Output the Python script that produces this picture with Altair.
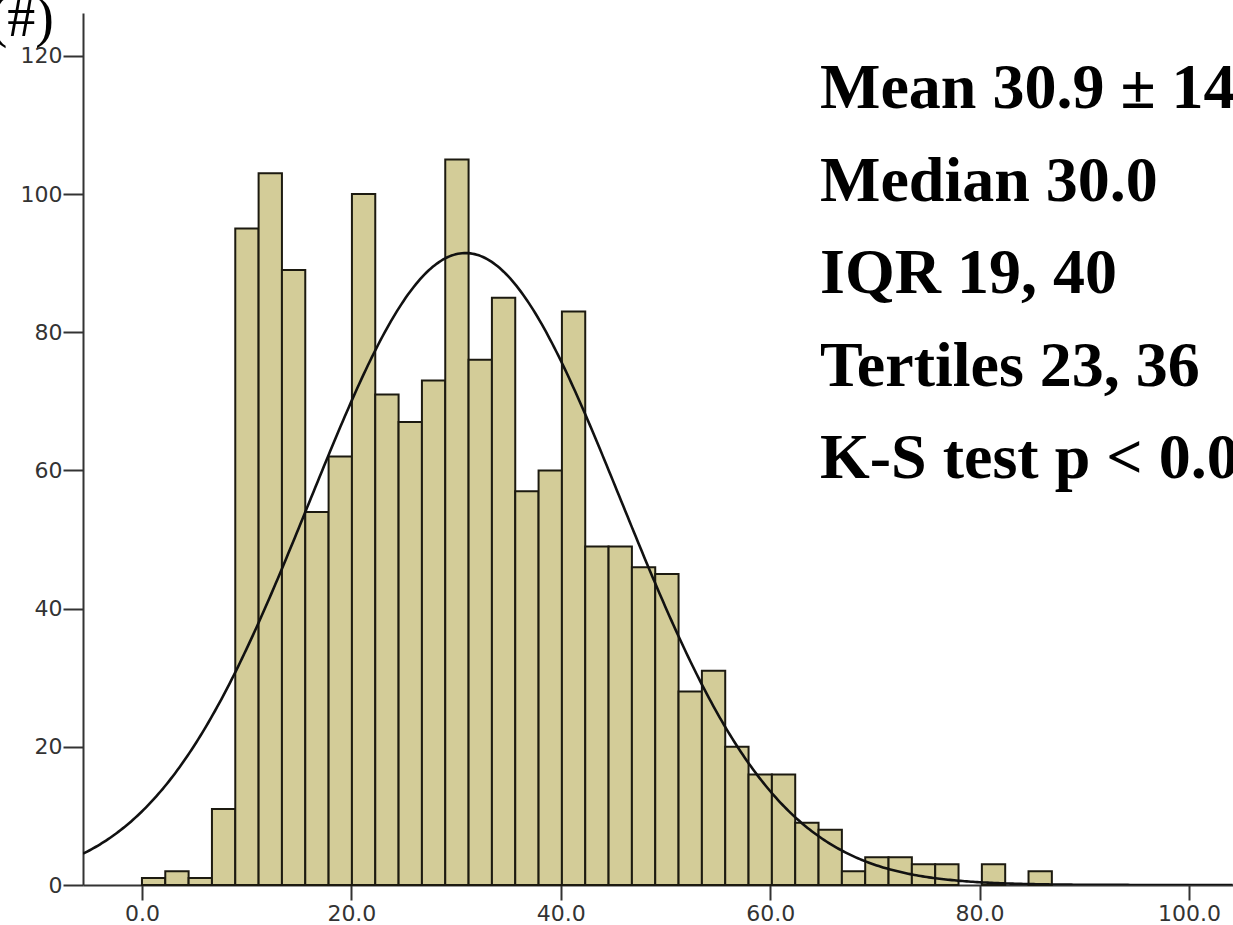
import altair as alt
import pandas as pd

# Histogram counts, 39 equal bins starting at 0
counts = [1, 2, 1, 11, 95, 103, 89, 54, 62, 100, 71, 67, 73, 105, 76, 85, 57, 60, 83,
          49, 49, 46, 45, 28, 31, 20, 16, 16, 9, 8, 2, 4, 4, 3, 3, 0, 3, 0, 2]
bin_origin = 0.0
bin_range_max = 86.9
x_ticks = [0, 20, 40, 60, 80, 100]
y_ticks = [0, 20, 40, 60, 80, 100, 120]
fit_mean = 30.9
fit_sd = 14.9
stats_lines = ["Mean 30.9 \u00b1 14", "Median 30.0", "IQR 19, 40", "Tertiles 23, 36", "K-S test p < 0.0"]
y_label = "(#)"

bin_width = (bin_range_max - bin_origin) / len(counts)
n_total = sum(counts)
bars_df = pd.DataFrame({
    "start": [bin_origin + i * bin_width for i in range(len(counts))],
    "end": [bin_origin + (i + 1) * bin_width for i in range(len(counts))],
    "count": counts,
})
bars_df = bars_df[bars_df["count"] > 0]

W, H = 1150, 872
x_scale = alt.Scale(domain=[-5.63, 104.2], nice=False, zero=False)
y_scale = alt.Scale(domain=[0, 126.2], nice=False, zero=True)

bars = alt.Chart(bars_df).mark_rect(
    fill="#d3cc98", stroke="#1c1a10", strokeWidth=2
).encode(
    x=alt.X("start:Q", scale=x_scale,
            axis=alt.Axis(values=x_ticks, format=".1f", title=None, tickSize=15,
                          labelFontSize=22, labelPadding=3)),
    x2="end:Q",
    y=alt.Y("count:Q", scale=y_scale,
            axis=alt.Axis(values=y_ticks, format="d", title=None, tickSize=20,
                          labelFontSize=22, labelPadding=1)),
    y2=alt.datum(0),
)

amp = n_total * bin_width / (fit_sd * (2 * 3.141592653589793) ** 0.5)
curve = alt.Chart(alt.sequence(-5.63, 104.2, 0.2, as_="xv")).transform_calculate(
    yv=f"{amp}*exp(-0.5*pow((datum.xv-{fit_mean})/{fit_sd},2))"
).mark_line(color="#111111", strokeWidth=2.6, clip=True).encode(
    x=alt.X("xv:Q", scale=x_scale),
    y=alt.Y("yv:Q", scale=y_scale),
)

layers = [bars, curve]
for i, line in enumerate(stats_lines):
    layers.append(
        alt.Chart(pd.DataFrame({"t": [line]})).mark_text(
            font="Liberation Serif", fontWeight="bold", fontSize=64,
            align="left", baseline="alphabetic", color="#000000"
        ).encode(text="t:N", x=alt.value(737), y=alt.value(95 + i * 92.5))
    )

layers.append(
    alt.Chart(pd.DataFrame({"t": [y_label]})).mark_text(
        font="Liberation Serif", fontSize=56, align="right",
        baseline="alphabetic", color="#000000"
    ).encode(text="t:N", x=alt.value(-29), y=alt.value(23))
)

chart = alt.layer(*layers).properties(
    width=W, height=H,
    autosize=alt.AutoSizeParams(type="none"),
    padding={"left": 83, "top": 13, "right": 0, "bottom": 40},
    background="#ffffff",
).configure_view(stroke=None).configure_axis(
    grid=False,
    domainColor="#333333", domainWidth=2,
    tickColor="#333333", tickWidth=2,
    labelFont="DejaVu Sans", labelColor="#333333",
)

chart.save("out.html", embed_options={"renderer": "svg", "actions": False})
